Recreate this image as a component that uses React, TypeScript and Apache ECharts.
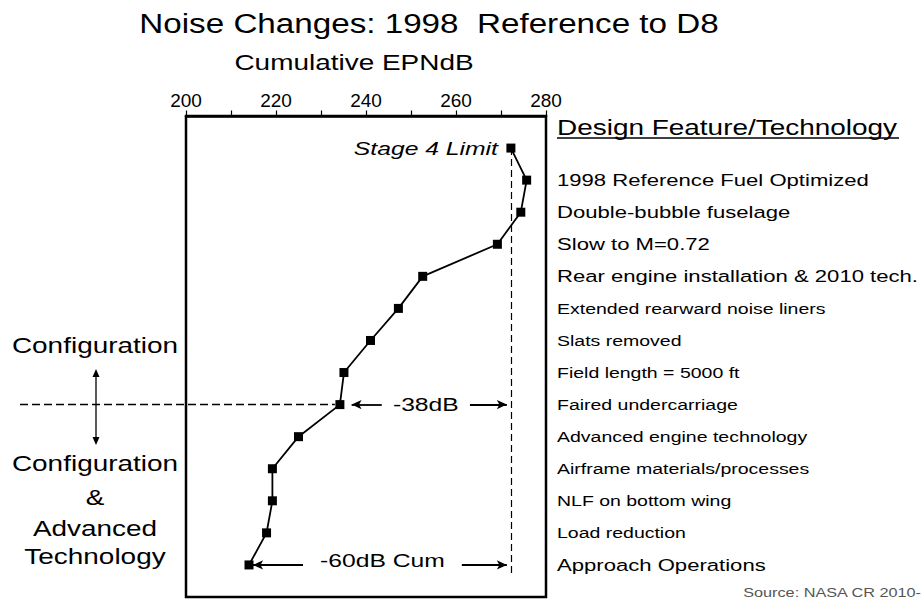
import React, { useEffect, useRef } from "react";
import * as echarts from "echarts";

// ---- data ----
const features: string[] = [
  "Stage 4 Limit",
  "1998 Reference Fuel Optimized",
  "Double-bubble fuselage",
  "Slow to M=0.72",
  "Rear engine installation & 2010 tech.",
  "Extended rearward noise liners",
  "Slats removed",
  "Field length = 5000 ft",
  "Faired undercarriage",
  "Advanced engine technology",
  "Airframe materials/processes",
  "NLF on bottom wing",
  "Load reduction",
  "Approach Operations",
];
const cumulativeEPNdB: number[] = [
  272.2, 275.7, 274.4, 269.2, 252.6, 247.2, 241.0, 235.1, 234.2, 225.0, 219.2,
  219.2, 217.9, 214.0,
];
const xMin = 200;
const xMax = 280;
const xLabelStep = 20;
const stage4Limit = 272.2;
const configRow = 8; // Faired undercarriage: end of configuration-only changes
const titleText = "Noise Changes: 1998  Reference to D8";
const axisTitle = "Cumulative EPNdB";
const headerText = "Design Feature/Technology";
const delta38 = "-38dB";
const delta60 = "-60dB Cum";
const leftTop = ["Configuration"];
const leftBottom = ["Configuration", "&", "Advanced", "Technology"];
const sourceText = "Source: NASA CR 2010-";

// ---- style ----
const FONT = "Liberation Sans, Arial, sans-serif";
const SX = 1.3;
const smallRows = new Set([5, 6, 7, 8, 9, 10, 11, 12]);

export default function App() {
  const ref = useRef<HTMLDivElement>(null);

  useEffect(() => {
    document.body.style.margin = "0";
    if (!ref.current) return;
    const chart = echarts.init(ref.current, undefined, { renderer: "svg" });

    const arrowPair = (a: number, b: number, row: number, arrowAtStart: boolean) => [
      {
        coord: [a, row],
        symbol: arrowAtStart ? "arrow" : "none",
        symbolSize: [7, 10],
        lineStyle: { color: "#000", width: 1.8, type: "solid" },
      },
      {
        coord: [b, row],
        symbol: arrowAtStart ? "none" : "arrow",
        symbolSize: [7, 10],
      },
    ];

    const option: any = {
      animation: false,
      backgroundColor: "#fff",
      grid: {
        left: 186,
        top: 116,
        width: 360,
        height: 481,
        show: true,
        borderColor: "#000",
        borderWidth: 2.5,
        backgroundColor: "transparent",
        containLabel: false,
      },
      xAxis: {
        type: "value",
        position: "top",
        min: xMin,
        max: xMax,
        interval: xLabelStep,
        axisLine: { show: true, onZero: false, lineStyle: { color: "#000", width: 2.5 } },
        axisTick: { show: true, inside: false, length: 5.5, lineStyle: { color: "#000", width: 1.2 } },
        minorTick: { show: true, splitNumber: 2, length: 5.5, lineStyle: { color: "#000", width: 1.2 } },
        splitLine: { show: false },
        minorSplitLine: { show: false },
        axisLabel: { color: "#000", fontSize: 19, fontFamily: FONT, margin: 6 },
      },
      yAxis: { type: "value", inverse: true, min: -1, max: 14, show: false },
      series: [
        {
          type: "line",
          data: cumulativeEPNdB.map((v, i) => [v, i]),
          symbol: "rect",
          symbolSize: 9,
          itemStyle: { color: "#000" },
          lineStyle: { color: "#000", width: 1.8 },
          clip: false,
          silent: true,
          z: 5,
          markLine: {
            silent: true,
            animation: false,
            symbol: ["none", "none"],
            label: { show: false },
            emphasis: { disabled: true },
            data: [
              [
                { coord: [stage4Limit, 0], lineStyle: { color: "#000", width: 1.2, type: [7, 4] } },
                { coord: [stage4Limit, 13.35] },
              ],
              arrowPair(236.8, 243.5, configRow, true),
              arrowPair(263.1, 271.3, configRow, false),
              arrowPair(214.9, 226.0, 13, true),
              arrowPair(261.3, 271.3, 13, false),
            ],
          },
        },
      ],
    };
    chart.setOption(option);

    const p = (x: number, y: number) => chart.convertToPixel({ gridIndex: 0 }, [x, y]) as number[];
    const T = (text: string, x: number, y: number, fontSize: number, align = "left", extra: any = {}, sx = SX) => ({
      type: "text",
      x,
      y,
      scaleX: sx,
      silent: true,
      style: { text, fontSize, fontFamily: FONT, fill: "#000", align, verticalAlign: "middle", ...extra },
    });

    const rightX = p(xMax, 0)[0] + 11;
    const g: any[] = [];
    g.push(T(titleText, 429, 24, 27, "center", {}, 1.23));
    g.push(T(axisTitle, 354, 62, 21.5, "center"));
    g.push(T(headerText, rightX, 127, 21.5));
    g.push({
      type: "line",
      silent: true,
      shape: { x1: rightX, y1: 138, x2: rightX + 342, y2: 138 },
      style: { stroke: "#000", lineWidth: 1.4 },
    });
    for (let i = 1; i < features.length; i++) {
      g.push(T(features[i], rightX, p(xMax, i)[1], smallRows.has(i) ? 15 : 17));
    }
    const s4 = p(cumulativeEPNdB[0], 0);
    g.push(T(features[0], s4[0] - 13, s4[1], 19, "right", { fontStyle: "italic" }));
    const m38 = p((243.5 + 263.1) / 2, configRow);
    g.push(T(delta38, m38[0], m38[1], 19, "center"));
    const m60 = p((226.0 + 261.3) / 2, 13);
    g.push(T(delta60, m60[0], m60[1] - 4, 19, "center"));

    // left region labels
    g.push(T(leftTop[0], 95, 345, 21.5, "center"));
    const leftYs = [463, 497, 528, 556];
    leftBottom.forEach((t, k) => g.push(T(t, 95, leftYs[k], 21.5, "center")));

    // horizontal dashed divider at configuration row
    const fp = p(cumulativeEPNdB[configRow], configRow);
    g.push({
      type: "line",
      silent: true,
      shape: { x1: 20, y1: fp[1], x2: fp[0] - 5, y2: fp[1] },
      style: { stroke: "#000", lineWidth: 1.5, lineDash: [8, 4] },
    });
    // double arrow on the left
    g.push({
      type: "line",
      silent: true,
      shape: { x1: 96, y1: 374, x2: 96, y2: 440 },
      style: { stroke: "#000", lineWidth: 1.3 },
    });
    g.push({
      type: "polygon",
      silent: true,
      shape: { points: [[96, 369], [92.5, 377], [99.5, 377]] },
      style: { fill: "#000" },
    });
    g.push({
      type: "polygon",
      silent: true,
      shape: { points: [[96, 445], [92.5, 437], [99.5, 437]] },
      style: { fill: "#000" },
    });
    g.push(T(sourceText, 921, 593, 12.5, "right", { fill: "#555" }));

    chart.setOption({ graphic: g });

    return () => chart.dispose();
  }, []);

  return <div ref={ref} style={{ width: 924, height: 610 }} />;
}
